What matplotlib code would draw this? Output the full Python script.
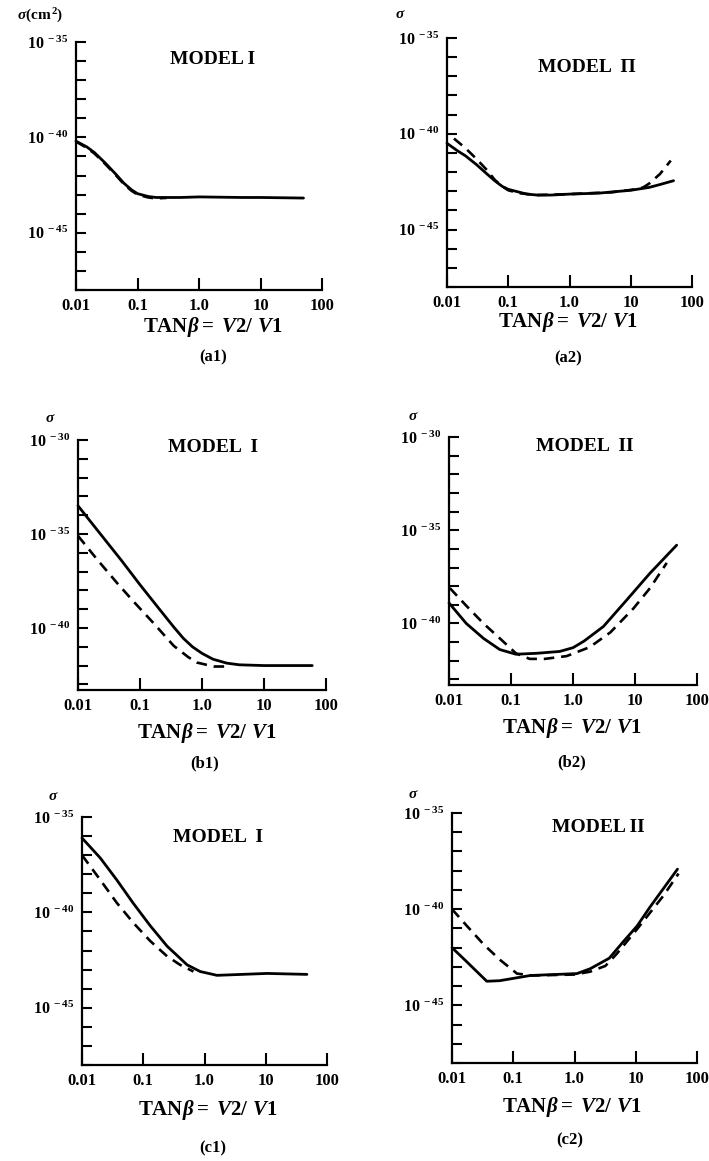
import matplotlib
matplotlib.use("Agg")
import numpy as np
import matplotlib.pyplot as plt
from matplotlib.ticker import NullLocator

plt.rcParams['font.family'] = ['Liberation Serif', 'DejaVu Serif']
plt.rcParams['font.weight'] = 'bold'
plt.rcParams['mathtext.fontset'] = 'custom'
plt.rcParams['mathtext.rm'] = 'Liberation Serif:bold'
plt.rcParams['mathtext.it'] = 'Liberation Serif:italic:bold'
plt.rcParams['mathtext.bf'] = 'Liberation Serif:bold'

# x = tan(beta), y = log10(sigma / cm^2)
a1_x_solid = [0.01, 0.015, 0.02, 0.03, 0.045, 0.06, 0.08, 0.1, 0.15, 0.2, 0.5, 1, 5, 10, 50]
a1_y_solid = [-40.2, -40.5, -40.8, -41.35, -41.95, -42.4, -42.75, -42.95, -43.1, -43.15, -43.15, -43.12, -43.15, -43.15, -43.18]
a1_x_dash = [0.01, 0.015, 0.02, 0.03, 0.045, 0.06, 0.08, 0.1, 0.15, 0.2, 0.3]
a1_y_dash = [-40.22, -40.55, -40.85, -41.4, -42.0, -42.45, -42.8, -43.0, -43.15, -43.2, -43.17]

a2_x_solid = [0.01, 0.015, 0.02, 0.03, 0.045, 0.06, 0.08, 0.1, 0.2, 0.3, 0.5, 1, 3, 10, 20, 30, 50]
a2_y_solid = [-40.5, -40.9, -41.15, -41.6, -42.1, -42.45, -42.75, -42.9, -43.15, -43.2, -43.2, -43.15, -43.1, -42.95, -42.8, -42.65, -42.45]
a2_x_dash = [0.013, 0.02, 0.03, 0.045, 0.06, 0.08, 0.1, 0.15, 0.3, 1, 5, 12, 16, 20, 30, 45]
a2_y_dash = [-40.25, -40.75, -41.3, -41.9, -42.4, -42.75, -42.95, -43.1, -43.2, -43.15, -43.05, -42.9, -42.8, -42.6, -42.1, -41.4]

b1_x_solid = [0.01, 0.02, 0.05, 0.1, 0.2, 0.35, 0.5, 0.7, 1.0, 1.5, 2.5, 4, 10, 60]
b1_y_solid = [-33.5, -34.75, -36.4, -37.7, -38.95, -39.95, -40.55, -41.0, -41.35, -41.66, -41.87, -41.96, -42.0, -42.0]
b1_x_dash = [0.01, 0.0204, 0.0425, 0.079, 0.166, 0.35, 0.6, 0.83, 1.55, 2.5]
b1_y_dash = [-35.1, -36.36, -37.6, -38.6, -39.75, -40.95, -41.55, -41.84, -42.05, -42.05]

b2_x_solid = [0.01, 0.019, 0.036, 0.066, 0.12, 0.26, 0.61, 1.0, 1.5, 3.1, 7.4, 17.5, 47]
b2_y_solid = [-38.9, -40.0, -40.8, -41.4, -41.65, -41.6, -41.5, -41.3, -40.95, -40.16, -38.73, -37.3, -35.8]
b2_x_dash = [0.0103, 0.019, 0.036, 0.066, 0.12, 0.2, 0.35, 0.79, 1.86, 4, 9.4, 17.5, 32.5]
b2_y_dash = [-38.1, -39.05, -40.0, -40.8, -41.6, -41.9, -41.9, -41.75, -41.27, -40.48, -39.2, -38.1, -36.75]

c1_x_solid = [0.01, 0.0199, 0.037, 0.069, 0.13, 0.245, 0.52, 0.85, 1.6, 10.5, 47]
c1_y_solid = [-36.1, -37.15, -38.3, -39.53, -40.7, -41.77, -42.75, -43.1, -43.3, -43.2, -43.25]
c1_x_dash = [0.01, 0.0199, 0.037, 0.069, 0.13, 0.245, 0.4, 0.66]
c1_y_dash = [-37.0, -38.3, -39.5, -40.55, -41.5, -42.3, -42.75, -43.1]

c2_x_solid = [0.01, 0.0176, 0.037, 0.06, 0.19, 1.1, 1.8, 3.7, 6.3, 10.5, 17, 48]
c2_y_solid = [-42.0, -42.75, -43.75, -43.72, -43.45, -43.35, -43.1, -42.55, -41.68, -40.88, -39.9, -37.92]
c2_x_dash = [0.01, 0.0176, 0.033, 0.061, 0.115, 0.2, 1.0, 1.8, 3.2, 4.9, 10.5, 28, 50]
c2_y_dash = [-40.0, -40.88, -41.84, -42.64, -43.35, -43.45, -43.4, -43.25, -42.95, -42.32, -41.04, -39.32, -38.15]

x_ticks = [0.01, 0.1, 1, 10, 100]
x_ticklabels = ['0.01', '0.1', '1.0', '10', '100']
xlabel = r'$\mathrm{TAN}\beta\mathrm{=\ }V\mathrm{2/\ }V\mathrm{1}$'

W, H = 709, 1161

panels = [
    dict(name='(a1)', box=(76, 42, 322, 290), yr=(-48, -35), lab=[-35, -40, -45], title='MODEL I', tpos=(213, 60),
         ylab=r'$\sigma\mathrm{(cm}^{\,2}\mathrm{)}$', ypos=(40, 16), xl=(213, 327), cap=(213, 357),
         xs=a1_x_solid, ys=a1_y_solid, xd=a1_x_dash, yd=a1_y_dash),
    dict(name='(a2)', box=(447, 38, 692, 287), yr=(-48, -35), lab=[-35, -40, -45], title='MODEL  \u03a0', tpos=(587, 67),
         ylab=r'$\sigma$', ypos=(400, 14), xl=(568, 322), cap=(568, 358),
         xs=a2_x_solid, ys=a2_y_solid, xd=a2_x_dash, yd=a2_y_dash),
    dict(name='(b1)', box=(78, 440, 326, 690), yr=(-43.3, -30), lab=[-30, -35, -40], title='MODEL  I', tpos=(213, 448),
         ylab=r'$\sigma$', ypos=(50, 419), xl=(207, 733), cap=(205, 763),
         xs=b1_x_solid, ys=b1_y_solid, xd=b1_x_dash, yd=b1_y_dash),
    dict(name='(b2)', box=(449, 437, 697, 685), yr=(-43.3, -30), lab=[-30, -35, -40], title='MODEL  II', tpos=(585, 447),
         ylab=r'$\sigma$', ypos=(413, 416), xl=(572, 728), cap=(572, 762),
         xs=b2_x_solid, ys=b2_y_solid, xd=b2_x_dash, yd=b2_y_dash),
    dict(name='(c1)', box=(82, 817, 327, 1065), yr=(-48, -35), lab=[-35, -40, -45], title='MODEL  I', tpos=(218, 837),
         ylab=r'$\sigma$', ypos=(53, 797), xl=(208, 1110), cap=(213, 1148),
         xs=c1_x_solid, ys=c1_y_solid, xd=c1_x_dash, yd=c1_y_dash),
    dict(name='(c2)', box=(452, 813, 697, 1063), yr=(-48, -35), lab=[-35, -40, -45], title='MODEL II', tpos=(598, 827),
         ylab=r'$\sigma$', ypos=(413, 794), xl=(572, 1107), cap=(570, 1140),
         xs=c2_x_solid, ys=c2_y_solid, xd=c2_x_dash, yd=c2_y_dash),
]

fig = plt.figure(figsize=(W / 100, H / 100), dpi=100)

for p in panels:
    l, t, r, b = p['box']
    ax = fig.add_axes([l / W, 1 - b / H, (r - l) / W, (b - t) / H])
    ax.set_xscale('log')
    ax.set_yscale('log')

    ax.plot(p['xs'], 10.0 ** np.array(p['ys']), color='black', lw=2.0, solid_joinstyle='round',
            solid_capstyle='round', clip_on=False)
    ax.plot(p['xd'], 10.0 ** np.array(p['yd']), color='black', lw=1.9, dashes=(4, 2.6), clip_on=False)

    ax.set_xlim(0.01, 100)
    ax.set_ylim(10.0 ** p['yr'][0], 10.0 ** p['yr'][1])

    # ticks every decade, labels only at the marked ones
    decades = list(range(int(np.ceil(p['yr'][0])), p['yr'][1] + 1))
    ax.set_yticks([10.0 ** d for d in decades])
    ax.set_yticklabels([r'$10^{\ %d}$' % d if d in p['lab'] else '' for d in decades])
    ax.set_xticks(x_ticks)
    ax.set_xticklabels(x_ticklabels)
    ax.xaxis.set_minor_locator(NullLocator())
    ax.yaxis.set_minor_locator(NullLocator())

    ax.tick_params(axis='y', direction='in', length=7, width=1.5, labelsize=11.5, pad=5)
    ax.tick_params(axis='x', direction='in', length=9, width=1.5, labelsize=12, pad=6)
    for lbl in ax.get_xticklabels():
        lbl.set_fontweight('bold')

    for s in ['top', 'right']:
        ax.spines[s].set_visible(False)
    for s in ['left', 'bottom']:
        ax.spines[s].set_linewidth(1.6)
    ax.patch.set_alpha(0)

    fig.text(p['tpos'][0] / W, 1 - p['tpos'][1] / H, p['title'], ha='center', va='center',
             fontsize=14, fontweight='bold')
    fig.text(p['ypos'][0] / W, 1 - p['ypos'][1] / H, p['ylab'], ha='center', va='center', fontsize=11)
    fig.text(p['xl'][0] / W, 1 - p['xl'][1] / H, xlabel, ha='center', va='center', fontsize=15)
    fig.text(p['cap'][0] / W, 1 - p['cap'][1] / H, p['name'], ha='center', va='center',
             fontsize=12, fontweight='bold')

fig.savefig('out.png', dpi=100)
